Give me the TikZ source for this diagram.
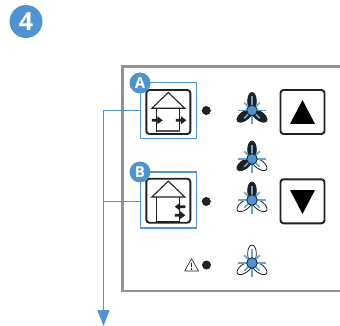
\documentclass[tikz,border=0pt]{standalone}
\usepackage{fontspec}
\setmainfont{Open Sans}
\usetikzlibrary{arrows.meta}
\definecolor{bl}{HTML}{4F94D0}
\definecolor{pan}{HTML}{8C9699}
\definecolor{ink}{HTML}{1E2224}
\tikzset{
 x=1pt,y=-1pt,
 panel/.style={draw=pan,line width=2.2pt,fill=white},
 callout/.style={draw=bl,line width=1.2pt,fill=white,minimum width=55.5pt,minimum height=56pt,inner sep=0},
 iconbox/.style={draw=ink,line width=1.9pt,rounded corners=3pt,fill=white,minimum width=44pt,minimum height=44pt,inner sep=0},
 badge/.style={circle,fill=bl,text=white,font=\bfseries\fontsize{15}{15}\selectfont,minimum size=21pt,inner sep=0},
 bigbadge/.style={circle,fill=bl,text=white,font=\bfseries\fontsize{25}{25}\selectfont,minimum size=33pt,inner sep=0},
 dotnode/.style={circle,fill=ink,minimum size=9pt,inner sep=0},
 leader/.style={draw=bl,line width=1.3pt},
 wall/.style={draw=ink,line width=1.1pt},
}
% house arrow: tail x, tip x, y (filled so that it stays bold at this size)
\newcommand{\flowarrow}[3]{\fill[ink] (#1,#3-1.3) -- ({#1+0.5*(#2-#1)},#3-1.3) -- ({#1+0.5*(#2-#1)},#3-4) -- (#2,#3) -- ({#1+0.5*(#2-#1)},#3+4) -- ({#1+0.5*(#2-#1)},#3+1.3) -- (#1,#3+1.3) -- cycle;}
% blade: position, angle, fill colour
\newcommand{\fanblade}[3]{\fill[#3,draw=ink,line width=.8pt,shift={(#1)},rotate=#2] (0,0) .. controls (-6.5,-3) and (-5,-18) .. (0,-18) .. controls (5,-18) and (6.5,-3) .. (0,0) -- cycle;}
\newcommand{\fanhub}[1]{%
 \begin{scope}[shift={(#1)}]
 \foreach \a/\l in {0/14,45/11,90/14,135/11,180/14,225/11,270/14,315/11}
  \draw[bl!85!white,line width=1.5pt] (0,0) -- (\a:\l);
 \fill[bl,draw=ink,line width=.8pt] (0,0) circle (5.3);
 \end{scope}}
\begin{document}
\begin{tikzpicture}
\useasboundingbox (0,0) rectangle (340,326);
\draw[panel] (345,66.5) -- (122.5,66.5) -- (122.5,291) -- (345,291);
\node[bigbadge] (four) at (26,21.5) {4};
\node[callout] (boxA) at (168.5,110.5) {};
\node[callout] (boxB) at (168.5,200) {};
\coordinate (jA) at (103.5,110.5);
\coordinate (jB) at (103.5,201.5);
\coordinate (tip) at (103.5,326);
\draw[leader] (boxA.west |- jA) -- (jA);
\draw[leader] (boxB.west |- jB) -- (jB);
\draw[leader] (jA) -- (103.5,312);
\fill[bl] (tip) -- (97.3,310) -- (109.7,310) -- cycle;
\node[iconbox] (iconA) at (168.3,112) {};
\node[iconbox] (iconB) at (168.3,200.7) {};
\node[badge] (A) at (140,83) {A};
\node[badge] (B) at (140,172) {B};
% house A
\begin{scope}[shift={(iconA.center)}]
 \draw[wall] (-16.5,-3.7) -- (0,-19.5) -- (16.5,-3.7) -- cycle;
 \draw[wall] (-11.5,-3.7) -- (-11.5,20) (11.5,-3.7) -- (11.5,20);
 \draw[draw=ink!75,line width=2.2pt] (-11.5,19) -- (11.5,19);
 \flowarrow{-16.5}{-5.5}{8.3}
 \flowarrow{7.5}{18}{8.3}
\end{scope}
% house B
\begin{scope}[shift={(iconB.center)}]
 \draw[wall] (-16.5,-3.7) -- (0,-19.5) -- (16.5,-3.7) -- cycle;
 \draw[wall] (-11.5,-3.7) -- (-11.5,20.5) -- (11.5,20.5) -- (11.5,-3.7);
 \flowarrow{17}{6.5}{6}
 \flowarrow{6.5}{17}{14.5}
\end{scope}
\node[dotnode] (d1) at (206.3,110.5) {};
\node[dotnode] (d2) at (206.3,201.5) {};
\node[dotnode] (d3) at (206.5,265) {};
% warning sign
\draw[ink,line width=.6pt,line join=round] (191.5,258.7) -- (198.5,271) -- (184.7,271) -- cycle;
\draw[ink,line width=.8pt] (191.5,262.5) -- (191.5,267.3) (191.5,268.4) -- (191.5,269.7);
% fans
\fanblade{252,110.5}{0}{ink}\fanblade{252,110.5}{126}{ink}\fanblade{252,110.5}{234}{ink}\fanhub{252,110.5}
\fanblade{252,159}{0}{ink}\fanblade{252,159}{126}{ink}\fanblade{252,159}{234}{white}\fanhub{252,159}
\fanblade{252,200}{0}{ink}\fanblade{252,200}{126}{white}\fanblade{252,200}{234}{white}\fanhub{252,200}
\fanblade{252,263}{0}{white}\fanblade{252,263}{126}{white}\fanblade{252,263}{234}{white}\fanhub{252,263}
% buttons
\node[iconbox] (up) at (302.5,112) {};
\node[iconbox] (down) at (302.5,201.3) {};
\fill[black] (302.5,100) -- (315,124) -- (290,124) -- cycle;
\fill[black] (302.5,214) -- (315,190) -- (290,190) -- cycle;
\end{tikzpicture}
\end{document}
